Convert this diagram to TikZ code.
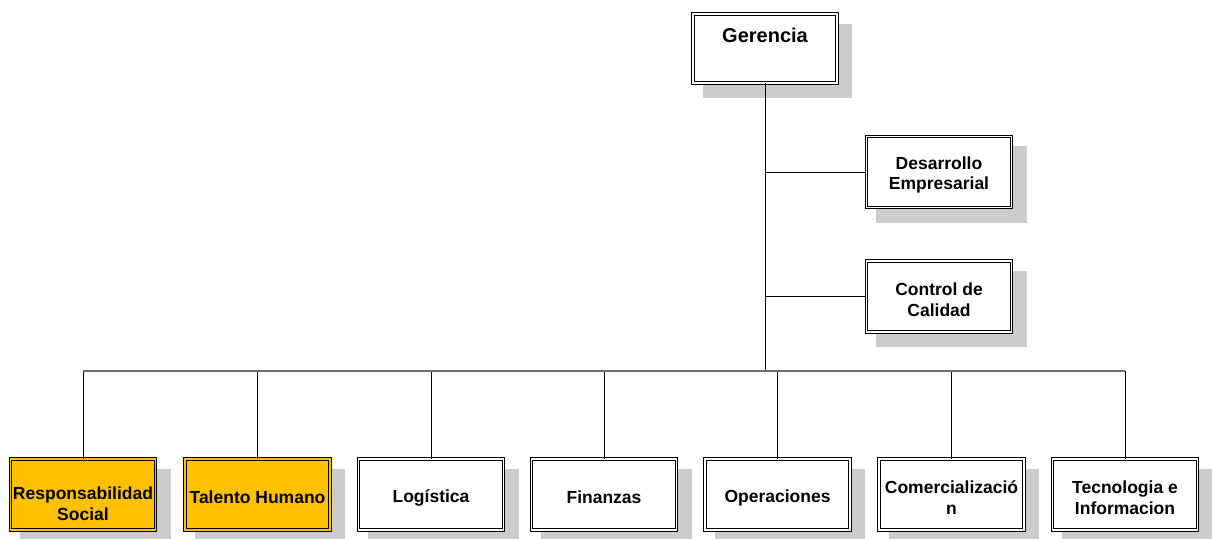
\documentclass[tikz,border=0pt]{standalone}
\usepackage{fontspec}
\setmainfont{Liberation Sans}
\usetikzlibrary{calc,backgrounds}
\definecolor{shadowc}{HTML}{CCCCCC}
\definecolor{unitorange}{HTML}{FFC000}
\definecolor{busgray}{HTML}{6E6E6E}
\tikzset{
  unit/.style={draw=black, fill=white, line width=0.9pt, double=white,
    double distance=1.8pt, minimum width=145pt, minimum height=71pt,
    inner sep=0pt},
  unithl/.style={unit, double=unitorange, fill=unitorange},
  unittext/.style={align=center, inner sep=0pt,
    font=\fontsize{17.5}{20.5}\selectfont\bfseries},
  link/.style={draw=black, line width=1pt},
  buslink/.style={draw=busgray, line width=1.3pt},
  shade/.style={fill=shadowc}
}
% box #2 at (#3,#4) in style #5, its caption #6 set #1 below centre
\newcommand\orgunit[6][3]{%
  \node[#5] (#2) at (#3,#4) {};
  \node[unittext] (#2-t) at (#3,#4+#1) {#6};
}
\begin{document}
\begin{tikzpicture}[x=1pt, y=-1pt]
  \useasboundingbox (0,0) rectangle (1212,538);
  \clip (0,0) rectangle (1212,538);

  % top of the chart
  \node[unit, minimum width=144pt, minimum height=69pt] (ger) at (765,48.5) {};
  \node[font=\fontsize{20}{24}\selectfont\bfseries] (gertxt) at (765,35.5) {Gerencia};

  % staff units on the right
  \orgunit{des}{939}{172}{unit}{Desarrollo\\Empresarial}
  \orgunit{cal}{939}{296.5}{unit}{Control de\\Calidad}

  % operating departments
  \orgunit[9]{resp}{83}{494.5}{unithl}{Responsabilidad\\Social}
  \orgunit{tal}{257.5}{494.5}{unithl}{Talento Humano}
  \orgunit{log}{431}{494.5}{unit}{Logística}
  \orgunit{fin}{604}{494.5}{unit}{Finanzas}
  \orgunit{ope}{777.5}{494.5}{unit}{Operaciones}
  \orgunit{com}{951.5}{494.5}{unit}{Comercializació\\n}
  \orgunit{tec}{1125}{494.5}{unit}{Tecnologia e\\Informacion}

  % drop shadows
  \begin{scope}[on background layer]
    \foreach \n in {ger,des,cal,resp,tal,log,fin,ope,com,tec}
      \fill[shade] ($(\n.north west)+(10,10)$) rectangle ($(\n.south east)+(15,15)$);
  \end{scope}

  % connectors
  \coordinate (busmid) at (765,371);
  \coordinate (jdes) at (ger.south |- des.west);
  \coordinate (jcal) at (ger.south |- cal.west);
  \draw[link] (ger.south) -- (busmid);
  \draw[link] (jdes) -- (des.west);
  \draw[link] (jcal) -- (cal.west);
  \foreach \n in {resp,tal,log,fin,ope,com,tec}
    \draw[link] (\n.north |- busmid) -- (\n.north);
  \draw[buslink] (resp.north |- busmid) -- (tec.north |- busmid);
\end{tikzpicture}
\end{document}
